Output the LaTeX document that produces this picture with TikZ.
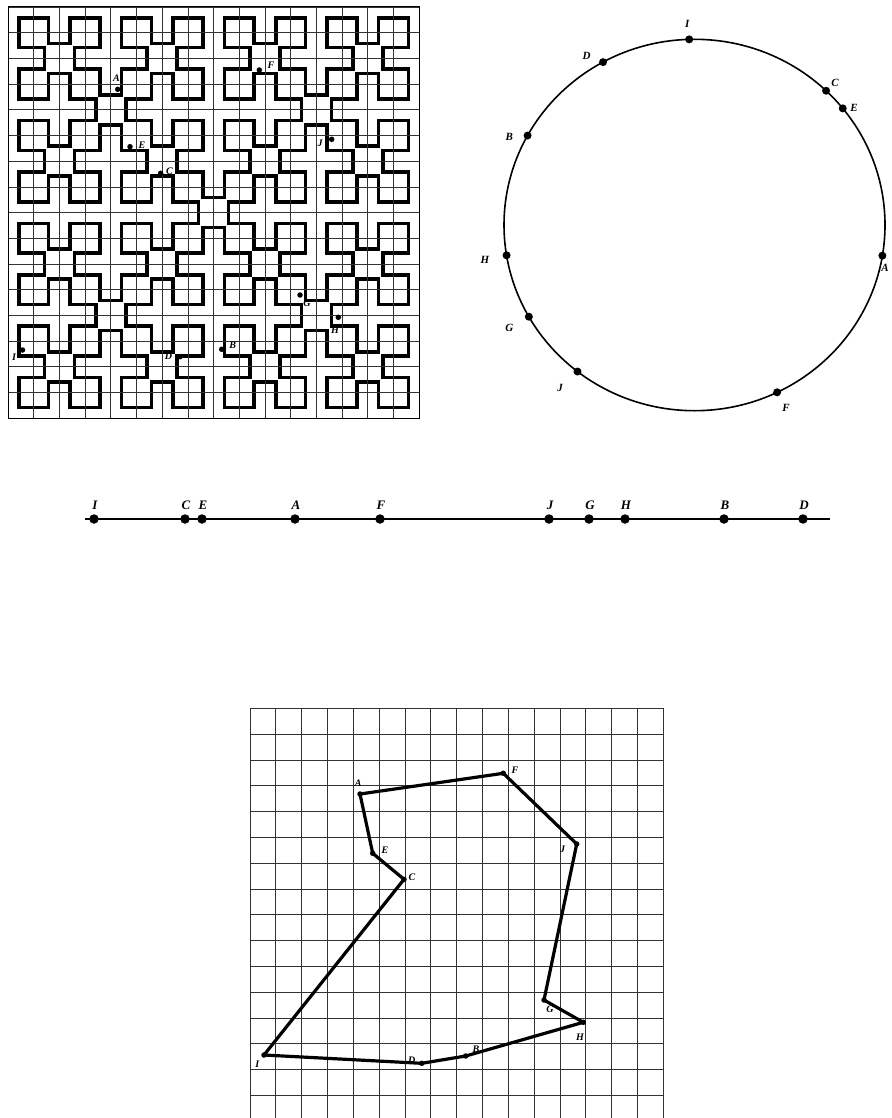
\documentclass[tikz,border=0pt]{standalone}
\usepackage{fontspec}
\setmainfont{Liberation Serif}
\newcommand\tlsquares[2]{%
  \foreach \bx in {0,4,8,12}{%
    \foreach \by in {0,4,8,12}{%
      \foreach \dx/\dy in {1/1,3/1,2/2,1/3,3/3}{%
        \fill[#2] ({8+(\bx+\dx-0.5)*25.7-#1},{7+(\by+\dy-0.5)*25.7-#1}) rectangle ({8+(\bx+\dx+0.5)*25.7+#1},{7+(\by+\dy+0.5)*25.7+#1});
      }}}%
  \foreach \i/\j in {4/4,12/4,4/12,12/12,8/8}{%
    \fill[#2] ({8+(\i-0.5)*25.7-#1},{7+(\j-0.5)*25.7-#1}) rectangle ({8+(\i+0.5)*25.7+#1},{7+(\j+0.5)*25.7+#1});
  }%
}
\tikzset{
  curveband/.style={fill=black},
  curvehole/.style={fill=white},
  gridln/.style={line width=0.7pt, black!80},
  frame/.style={line width=1pt, black},
  sdot/.style={circle, fill=black, inner sep=0pt, minimum size=5.5pt},
  cdot/.style={circle, fill=black, inner sep=0pt, minimum size=8pt},
  ldot/.style={circle, fill=black, inner sep=0pt, minimum size=9.5pt},
  tdot/.style={circle, fill=black, inner sep=0pt, minimum size=5.5pt},
  labs/.style={font=\bfseries\itshape\fontsize{10}{12}\selectfont, inner sep=0pt},
  labc/.style={font=\bfseries\itshape\fontsize{11}{13}\selectfont, inner sep=0pt},
  labl/.style={font=\bfseries\itshape\fontsize{13}{15}\selectfont, inner sep=0pt},
  circln/.style={line width=1.6pt},
  numln/.style={line width=1.6pt},
  tour/.style={line width=3.2pt, line join=round, line cap=round},
}
\begin{document}
\begin{tikzpicture}[x=1pt,y=-1pt]
\useasboundingbox (0,0) rectangle (891,1118);
\fill[white] (0,0) rectangle (891,1118);
\begin{scope}
\clip (0,0) rectangle (891,1118);

% ---------- top-left: Sierpinski square curve on 16x16 grid ----------
\tlsquares{3.9}{curveband}
\tlsquares{0.3}{curvehole}
\foreach \k in {0,...,16}{%
  \draw[gridln] ({8+\k*25.7},7) -- ({8+\k*25.7},418.2);
  \draw[gridln] (8,{7+\k*25.7}) -- (419.2,{7+\k*25.7});
}
\draw[frame] (8,7) rectangle (419.2,418.2);

\node[sdot] (qA) at (117.7,89.3) {};
\node[labs] (qAl) at (116.5,78) {A};
\node[sdot] (qE) at (130,146.7) {};
\node[labs] (qEl) at (142,145) {E};
\node[sdot] (qC) at (160.7,173.3) {};
\node[labs] (qCl) at (169.5,171.5) {C};
\node[sdot] (qF) at (259.3,70) {};
\node[labs] (qFl) at (271,65) {F};
\node[sdot] (qJ) at (331.7,139.3) {};
\node[labs] (qJl) at (320,143.3) {J};
\node[sdot] (qI) at (22.5,350) {};
\node[labs] (qIl) at (14,357) {I};
\node[sdot] (qD) at (180,356.7) {};
\node[labs] (qDl) at (168.5,356.7) {D};
\node[sdot] (qB) at (221.7,349.3) {};
\node[labs] (qBl) at (232.7,345) {B};
\node[sdot] (qG) at (300,295) {};
\node[labs] (qGl) at (307,303.3) {G};
\node[sdot] (qH) at (338.3,317.3) {};
\node[labs] (qHl) at (335,330) {H};

% ---------- top-right: circle ----------
\draw[circln] (694.5,225) ellipse [x radius=190.5, y radius=185.7];
\foreach \n/\a in {I/91.6, D/118.7, C/46.3, E/38.9, B/151.2, H/189.4, A/350.5, G/209.6, J/232.1, F/295.7}{%
  \node[cdot] (c\n) at ({694.5+190.5*cos(\a)},{225-185.7*sin(\a)}) {};
}
\node[labc] (cIl) at (687.3,24) {I};
\node[labc] (cDl) at (586.7,56) {D};
\node[labc] (cCl) at (835,82.7) {C};
\node[labc] (cEl) at (854,108.3) {E};
\node[labc] (cBl) at (509.3,136.7) {B};
\node[labc] (cHl) at (485,260) {H};
\node[labc] (cAl) at (885,268) {A};
\node[labc] (cGl) at (509.3,328.3) {G};
\node[labc] (cJl) at (560,388.3) {J};
\node[labc] (cFl) at (786,408.3) {F};

% ---------- middle: number line ----------
\coordinate (nl0) at (85,519);
\coordinate (nl1) at (830,519);
\draw[numln] (nl0) -- (nl1);
\foreach \n/\x in {I/94, C/185, E/202, A/295, F/380, J/549, G/589, H/625, B/724, D/803}{%
  \node[ldot] (l\n) at (\x,519) {};
  \node[labl] (l\n l) at (\x+1,505) {\n};
}

% ---------- bottom: tour on grid ----------
\foreach \k in {0,...,16}{%
  \draw[gridln] ({250+\k*25.83},708.3) -- ({250+\k*25.83},1118);
}
\foreach \k in {0,...,15}{%
  \draw[gridln] (250,{708.3+\k*25.8}) -- (663.3,{708.3+\k*25.8});
}
\node[tdot] (tA) at (360,794) {};
\node[tdot] (tF) at (503.3,773.3) {};
\node[tdot] (tJ) at (576.7,844) {};
\node[tdot] (tE) at (372.7,853.3) {};
\node[tdot] (tC) at (404,879.3) {};
\node[tdot] (tG) at (544,1000) {};
\node[tdot] (tH) at (583.3,1022.3) {};
\node[tdot] (tI) at (264,1055) {};
\node[tdot] (tD) at (421.7,1063.3) {};
\node[tdot] (tB) at (465.7,1056) {};
\draw[tour] (tA.center) -- (tF.center) -- (tJ.center) -- (tG.center) -- (tH.center) -- (tB.center) -- (tD.center) -- (tI.center) -- (tC.center) -- (tE.center) -- cycle;
\node[labs] (tAl) at (358.3,783) {A};
\node[labs] (tFl) at (515,770) {F};
\node[labs] (tJl) at (562.7,849.3) {J};
\node[labs] (tEl) at (385,850) {E};
\node[labs] (tCl) at (412,877.3) {C};
\node[labs] (tGl) at (550,1009.3) {G};
\node[labs] (tHl) at (580,1037) {H};
\node[labs] (tIl) at (257.3,1064) {I};
\node[labs] (tDl) at (411.7,1060.7) {D};
\node[labs] (tBl) at (476,1049.3) {B};
\end{scope}
\end{tikzpicture}
\end{document}
